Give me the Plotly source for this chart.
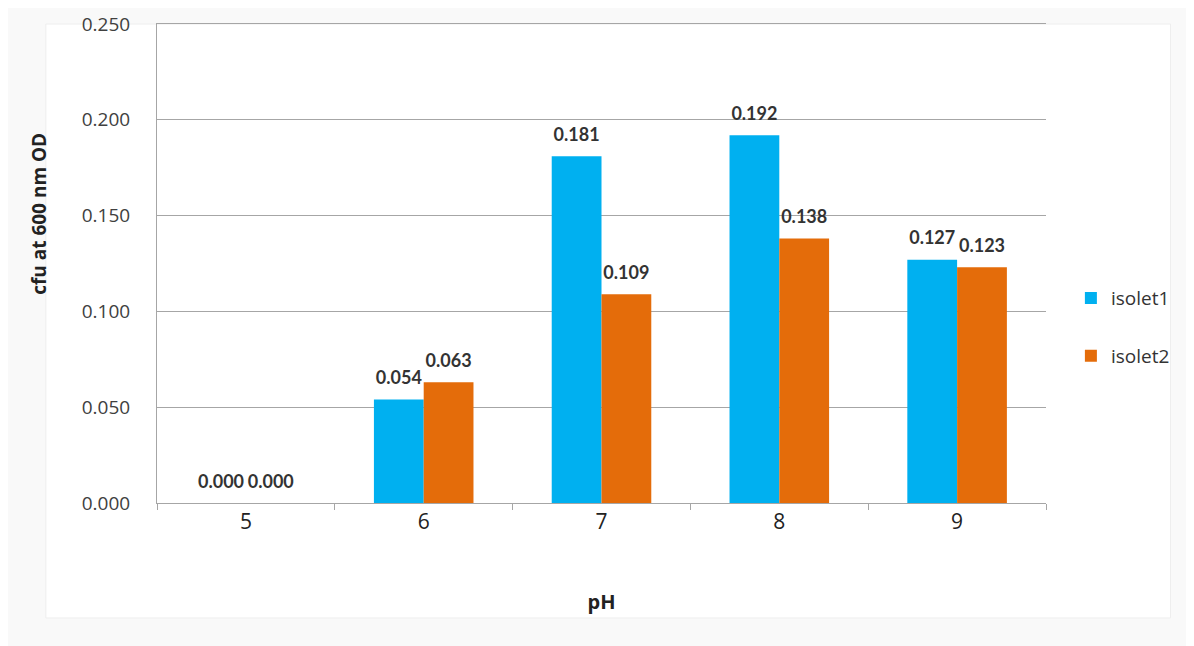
import plotly.graph_objects as go

categories = ["5", "6", "7", "8", "9"]
isolet1 = [0.000, 0.054, 0.181, 0.192, 0.127]
isolet2 = [0.000, 0.063, 0.109, 0.138, 0.123]
y_ticks = [0.0, 0.05, 0.10, 0.15, 0.20, 0.25]

fig = go.Figure()
for name, vals, color, grp in [("isolet1", isolet1, "#00B0F0", "a"), ("isolet2", isolet2, "#E46C0A", "b")]:
    fig.add_trace(go.Bar(
        x=categories, y=vals, name=name, marker_color=color, marker_line_width=0,
        text=[f"<span style='font-size:18px'>{v:.3f}</span><br> " for v in vals],
        textposition="outside", cliponaxis=False,
        textfont=dict(family="Lato, Open Sans, sans-serif", size=8, color="#333333", weight="bold"),
        legendgroup=grp,
    ))

fig.update_layout(
    width=1186, height=638,
    barmode="group", bargap=0.44, bargroupgap=0,
    paper_bgcolor="#F9F9F9", plot_bgcolor="white",
    margin=dict(l=149, r=148, t=16, b=143, autoexpand=False),
    font=dict(family="Open Sans, Lato, sans-serif", color="#333333"),
    showlegend=True,
    legend=dict(x=1.028, y=0.367, yanchor="middle", xanchor="left", tracegroupgap=30,
                font=dict(size=19, color="#333333"), itemwidth=30, bgcolor="rgba(0,0,0,0)"),
    shapes=[dict(type="rect", xref="paper", yref="paper", x0=-0.125, x1=1.14, y0=-0.24, y1=1.0,
                 line=dict(color="#EEEEEE", width=1), fillcolor="white", layer="below")],
    annotations=[dict(text="<b>cfu at 600 nm OD</b>", xref="paper", yref="paper",
                      x=-0.132, y=0.603, textangle=-90, showarrow=False,
                      xanchor="center", yanchor="middle",
                      font=dict(size=19, color="#222222"))],
)
fig.update_yaxes(
    range=[0, 0.25], tickvals=y_ticks, tickformat=".3f",
    showgrid=True, gridcolor="#A6A6A6", gridwidth=1,
    showline=True, linecolor="#A6A6A6", linewidth=1, zeroline=False,
    ticklabelstandoff=22,
    tickfont=dict(size=19, color="#404040"),
)
fig.update_xaxes(
    showline=True, mirror=True, linecolor="#A6A6A6", linewidth=1.2,
    ticks="outside", tickson="boundaries", ticklen=6, tickcolor="#A6A6A6",
    tickfont=dict(size=21, color="#222222"),
    title=dict(text="<b>pH</b>", font=dict(size=20, color="#222222"), standoff=60),
)

fig.write_html("out.html")
